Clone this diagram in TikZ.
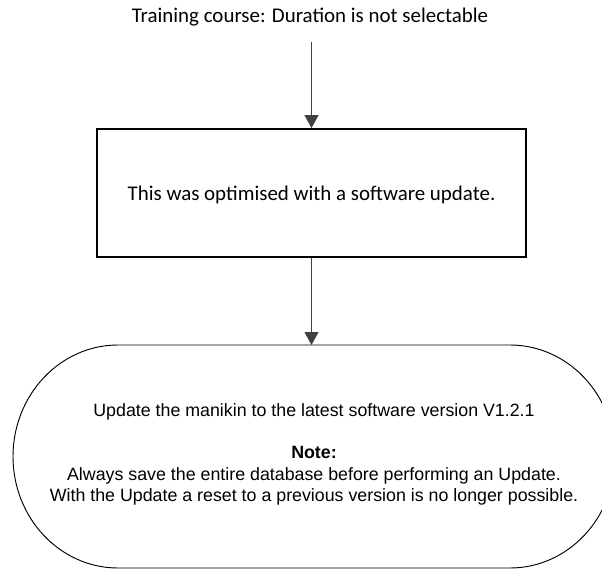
\documentclass[tikz,border=0pt]{standalone}
\usepackage{fontspec}
\setmainfont{Carlito}
\newfontfamily\arialfont{Liberation Sans}
\usetikzlibrary{arrows.meta,calc}

\tikzset{
	flow/.style={draw=black!75, line width=0.8pt, -{Triangle[width=10.5pt,length=9.75pt]}},
	headtext/.style={font=\fontsize{15.7pt}{18pt}\selectfont, inner sep=0pt},
	procbox/.style={draw, line width=1.4pt, minimum width=321.75pt, minimum height=96pt,
		text height=13.5pt, text depth=3pt, font=\fontsize{15.7pt}{18pt}\selectfont},
	termline/.style={draw, line width=0.7pt},
	termtext/.style={align=center, inner sep=0pt,
		font=\arialfont\fontsize{13.35pt}{16pt}\selectfont}
}

\begin{document}
\begin{tikzpicture}[x=0.75pt,y=0.75pt]
\useasboundingbox (0,0) rectangle (602,569);
\clip (0,0) rectangle (602,569);

\node[headtext, anchor=base] (course) at (310,546) {Training course: Duration is not selectable};
\coordinate (coursefoot) at (311.5,527);
\node[procbox] (optim) at (311.5,376) {This was optimised with a software update.};

%% Terminator %%
\draw[termline] (118,224) -- (510,224)
	arc[start angle=90, end angle=-90, x radius=105, y radius=111.5]
	-- (118,1)
	arc[start angle=270, end angle=90, x radius=105, y radius=111.5] -- cycle;
\coordinate (updtop) at (311.5,224);
\node[termtext] (upd) at (314,114.3) {Update the manikin to the latest software version V1.2.1\\[15.5pt]
	\textbf{Note:}\\
	Always save the entire database before performing an Update.\\
	With the Update a reset to a previous version is no longer possible.};

%% Pfeile %%
\draw[flow] (coursefoot) -- (optim.north);
\draw[flow] (optim.south) -- (updtop);
\end{tikzpicture}
\end{document}
